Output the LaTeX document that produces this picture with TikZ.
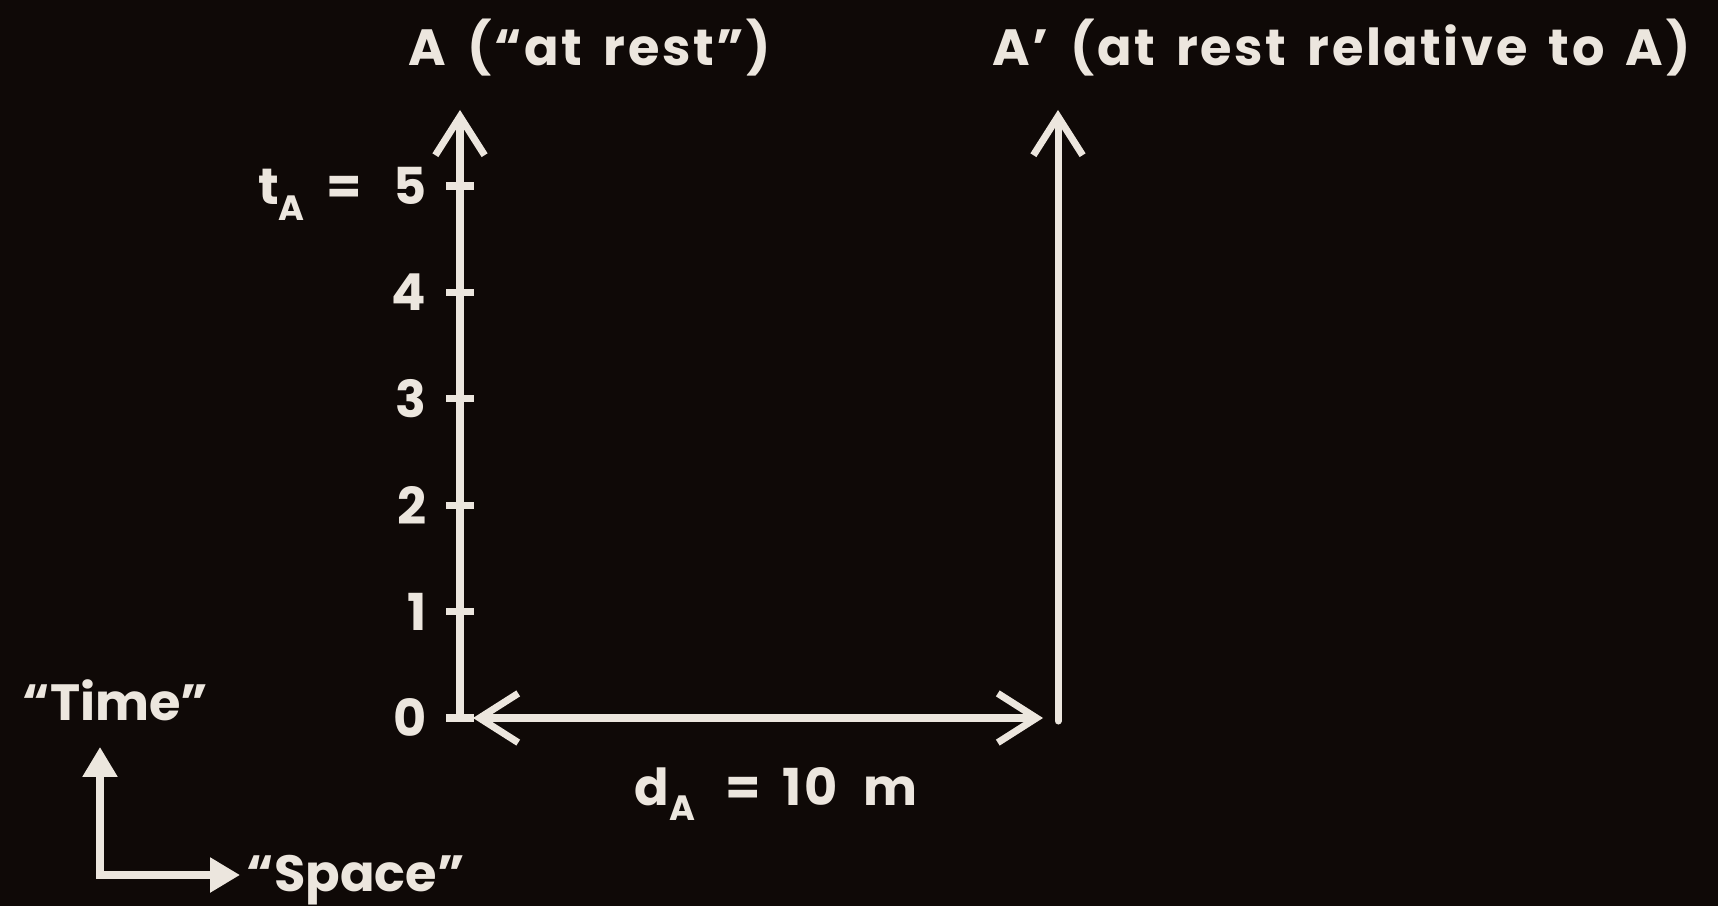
\documentclass[tikz,border=0pt]{standalone}
\usepackage{fontspec}
\setmainfont{Poppins}
\usetikzlibrary{positioning,arrows.meta}
\definecolor{chalk}{RGB}{236,230,222}
\definecolor{board}{RGB}{15,9,7}
\newcommand{\lowsub}[1]{\raisebox{-0.55ex}{\fontsize{10}{10}\selectfont #1}}
\newcommand{\widefont}{\addfontfeature{LetterSpace=5}\spaceskip=0.42em\relax}

\begin{document}
\begin{tikzpicture}[
    axis/.style={draw=chalk,line width=2pt,line cap=round,
                 -{Straight Barb[length=11pt,width=14pt]}},
    span/.style={draw=chalk,line width=2pt,
                 {Straight Barb[length=11pt,width=14pt]}-{Straight Barb[length=11pt,width=14pt]}},
    mini/.style={draw=chalk,line width=2pt,
                 {Triangle[length=8.5pt,width=9.5pt]}-{Triangle[length=8.5pt,width=9.5pt]}},
    tickmark/.style={draw=chalk,line width=2pt},
    lbl/.style={text=chalk,font=\fontsize{14.5}{17}\selectfont\bfseries,inner sep=0pt},
    widelbl/.style={lbl,font=\fontsize{14.5}{17}\selectfont\bfseries\widefont}
  ]
  \fill[board] (0,0) rectangle (17.18,9.06);

  \coordinate (o) at (4.60,1.88);
  \coordinate (otop) at (4.60,7.96);
  \coordinate (p) at (10.58,1.85);
  \coordinate (ptop) at (10.58,7.96);

  \draw[axis] (o) -- (otop);
  \draw[axis] (p) -- (ptop);
  \draw[span,shorten <=0.13cm,shorten >=0.15cm] (o) -- (o -| p);

  \foreach \k in {0,...,5} {
    \coordinate (t\k) at (4.60,1.88+\k*1.064);
    \draw[tickmark] ([xshift=-0.14cm]t\k) -- ([xshift=0.14cm]t\k);
    \node[lbl,left=0.33cm of t\k] (n\k) {\k};
  }
  \node[lbl,anchor=base east] (teq) at ([xshift=-0.3cm]n5.base west) {t\lowsub{A}\ \ =};

  \node[widelbl,anchor=base west] (restA) at (4.08,8.40) {A (“at rest”)};
  \node[widelbl,anchor=base west] (restB) at (9.92,8.40) {A' (at rest relative to A)};
  \node[widelbl,anchor=base] (dist) at (7.76,1.01) {d\lowsub{A}\hspace{0.6em}=\ 10\hspace{0.5em}m};

  \coordinate (corner) at (1.00,0.31);
  \coordinate (tend) at (1.00,1.59);
  \coordinate (send) at (2.40,0.31);
  \draw[mini] (tend) -- (corner) -- (send);
  \node[lbl,anchor=base west] (time) at (0.22,1.86) {“Time”};
  \node[lbl,anchor=base west] (space) at (2.46,0.15) {“Space”};
\end{tikzpicture}
\end{document}
